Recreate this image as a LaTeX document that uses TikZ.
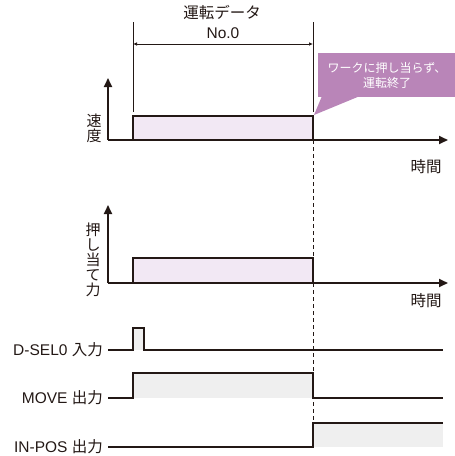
\documentclass[tikz,border=0pt]{standalone}
\usepackage{fontspec}
\setmainfont{Liberation Sans}
\newfontfamily\jp{Noto Sans CJK JP}
\usetikzlibrary{arrows.meta}
\definecolor{lav}{HTML}{F2E8F4}
\definecolor{callout}{HTML}{B985B8}
\definecolor{sig}{HTML}{231815}
\definecolor{gfill}{HTML}{EFEFEF}
\begin{document}
\begin{tikzpicture}[x=1pt,y=-1pt,
  axis/.style={line width=1.8pt,draw=sig,-{Triangle[length=9pt,width=8pt]}},
  signal/.style={line width=1.8pt,draw=sig},
  thin/.style={line width=0.7pt,draw=sig},
  lbl/.style={font=\fontsize{15.5}{17}\selectfont,text=sig,inner sep=1pt},
  vlbl/.style={font=\jp\fontsize{15}{15}\selectfont,text=sig,align=center,inner sep=0pt}]
\useasboundingbox (0,0) rectangle (455,456);
% speed graph
\fill[lav] (133,116) rectangle (313,140);
\draw[signal] (133,140) -- (133,116) -- (313,116) -- (313,140);
\draw[axis] (108,140) -- (448,140);
\draw[axis] (108,140) -- (108,78);
\node[vlbl] (vs) at (94,128) {速\\度};
\node[lbl] (t1) at (426,167) {\jp 時間};
% dimension
\coordinate (d1) at (133,22);
\coordinate (d1b) at (133,112);
\coordinate (d2) at (313,22);
\coordinate (d2b) at (313,112);
\draw[thin] (d1) -- (d1b);
\draw[thin] (d2) -- (d2b);
\draw[thin,{Latex[length=4pt,width=3.5pt]}-{Latex[length=4pt,width=3.5pt]}] (133,44) -- (313,44);
\node[lbl] (dt1) at (222,13) {\jp 運転データ};
\node[lbl] (dt2) at (223,33) {No.0};
% callout
\coordinate (tip) at (314,115);
\fill[callout] (318,53) rectangle (455,97);
\fill[callout] (322,96) -- (tip) -- (360,96) -- cycle;
\node[font=\jp\fontsize{12}{15}\selectfont,text=white,align=center,inner sep=0pt] (ct) at (387,75) {ワークに押し当らず、\\運転終了};
% push force graph
\fill[lav] (133,258) rectangle (313,283);
\draw[signal] (133,283) -- (133,258) -- (313,258) -- (313,283);
\draw[axis] (108,283) -- (448,283);
\draw[axis] (108,283) -- (108,205);
\node[vlbl] (vf) at (93,260) {押\\し\\当\\て\\力};
\node[lbl] (t2) at (426,301) {\jp 時間};
% dashed
\draw[thin,dash pattern=on 4pt off 3pt] (313,140) -- (313,258);
\draw[thin,dash pattern=on 4pt off 3pt] (313,283) -- (313,423);
% D-SEL0
\fill[gfill] (133,328) rectangle (144,350);
\draw[signal] (108,350) -- (133,350) -- (133,328) -- (144,328) -- (144,350) -- (443,350);
\node[lbl,anchor=east] (l1) at (104,350) {D-SEL0 {\jp 入力}};
% MOVE
\fill[gfill] (133,373) rectangle (313,398);
\draw[signal] (108,398) -- (133,398) -- (133,373) -- (313,373) -- (313,398) -- (443,398);
\node[lbl,anchor=east] (l2) at (104,398) {MOVE {\jp 出力}};
% IN-POS
\fill[gfill] (313,423) rectangle (443,447);
\draw[signal] (108,447) -- (313,447) -- (313,423) -- (443,423);
\node[lbl,anchor=east] (l3) at (104,447) {IN-POS {\jp 出力}};
\end{tikzpicture}
\end{document}
